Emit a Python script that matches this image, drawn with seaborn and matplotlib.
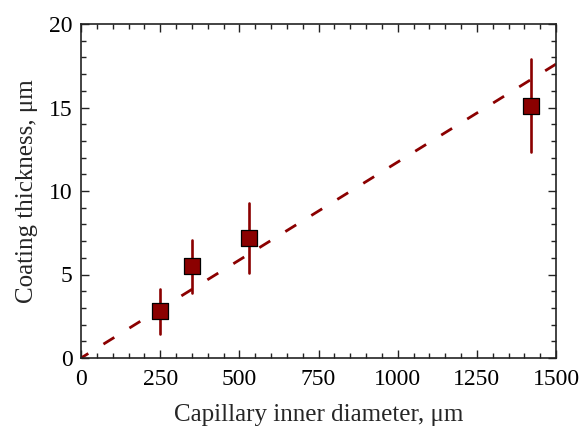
import numpy as np
import pandas as pd
import matplotlib
matplotlib.use("Agg")
import matplotlib.pyplot as plt
import seaborn as sns
from matplotlib.ticker import MultipleLocator

diameter = [250, 350, 532, 1421]
thickness = [2.83, 5.48, 7.2, 15.09]
err_low = [1.44, 3.89, 5.08, 12.36]
err_high = [4.13, 7.08, 9.31, 17.89]
fit_x = [0, 1500]
fit_y = [0, 17.6]

sns.set_theme(style="ticks")
plt.rcParams['font.family'] = ['Liberation Serif', 'DejaVu Serif']

color = "#8b0000"
df = pd.DataFrame({"d": diameter, "t": thickness})

fig = plt.figure(figsize=(5.84, 4.29), dpi=100)
ax = fig.add_axes([81/584, 1-358/429, (556-81)/584, (358-24)/429])

sns.lineplot(x=fit_x, y=fit_y, ax=ax, color=color, linewidth=2.0,
             linestyle=(1.5, (4.6, 6.4)), dash_capstyle="butt")
for x, lo, hi in zip(diameter, err_low, err_high):
    ax.plot([x, x], [lo, hi], color=color, linewidth=1.9, zorder=3)
sns.scatterplot(data=df, x="d", y="t", ax=ax, marker="s", s=120, color=color,
                edgecolor="black", linewidth=0.9, zorder=4)

ax.set_xlim(0, 1500)
ax.set_ylim(0, 20)
ax.xaxis.set_major_locator(MultipleLocator(250))
ax.xaxis.set_minor_locator(MultipleLocator(50))
ax.yaxis.set_major_locator(MultipleLocator(5))
ax.yaxis.set_minor_locator(MultipleLocator(1))
ax.tick_params(which="both", direction="in", top=True, right=True, labelsize=17,
               colors="#222222", labelcolor="black")
ax.tick_params(axis="x", which="major", pad=8)
ax.tick_params(axis="y", which="major", pad=6)
ax.tick_params(which="major", length=6, width=1)
ax.tick_params(which="minor", length=3.5, width=1)
for s in ax.spines.values():
    s.set_linewidth(1.2)
    s.set_color("#222222")
ax.set_xlabel("Capillary inner diameter, μm", fontsize=18, labelpad=10)
ax.set_ylabel("Coating thickness, μm", fontsize=18, labelpad=8)

fig.savefig("out.png", dpi=100)
